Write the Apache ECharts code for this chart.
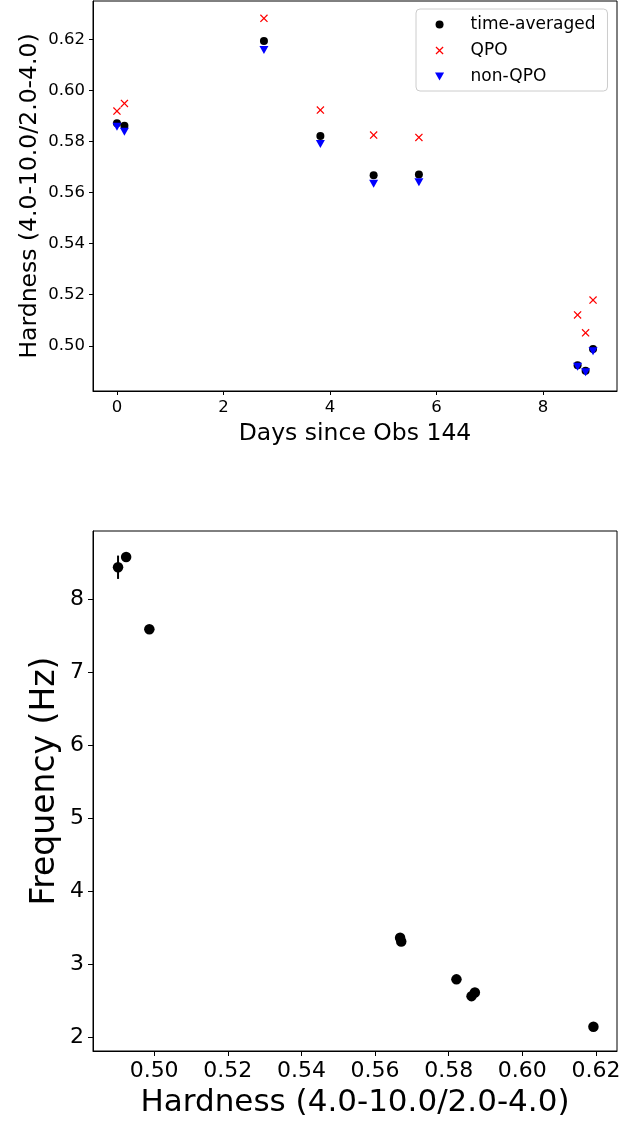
<!DOCTYPE html>
<html>
<head>
<meta charset="utf-8">
<script src="https://cdn.jsdelivr.net/npm/echarts@6/dist/echarts.min.js"></script>
<style>
  html, body { margin: 0; padding: 0; background: #fff; }
  #chart { width: 633px; height: 1122px; }
</style>
</head>
<body>
<div id="chart"></div>
<script>
// Observation epochs (days since Obs 144)
const days = [0.00, 0.14, 2.76, 3.82, 4.82, 5.67, 8.65, 8.80, 8.94];
// Hardness ratio (4.0-10.0 keV / 2.0-4.0 keV)
const hardAvg = [0.5871, 0.5862, 0.6193, 0.5821, 0.5668, 0.5671, 0.4924, 0.4902, 0.4987];
const hardQpo = [0.5919, 0.5949, 0.6282, 0.5923, 0.5825, 0.5816, 0.5121, 0.5051, 0.5179];
const hardNon = [0.5858, 0.5838, 0.6158, 0.5790, 0.5634, 0.5640, 0.4918, 0.4896, 0.4979];
// QPO centroid frequency and its 1-sigma uncertainty
const freq    = [2.61, 2.56, 2.14, 2.79, 3.36, 3.31, 8.58, 8.44, 7.59];
const freqErr = [0.03, 0.03, 0.02, 0.03, 0.04, 0.04, 0.05, 0.16, 0.04];

// Tick values
const dayTicks = [0, 2, 4, 6, 8];
const hardTicks = [0.50, 0.52, 0.54, 0.56, 0.58, 0.60, 0.62];
const freqTicks = [2, 3, 4, 5, 6, 7, 8];

const FONT = 'DejaVu Sans';
const X_MARK = 'path://M0,11L11,0L50,39L89,0L100,11L61,50L100,89L89,100L50,61L11,100L0,89L39,50Z';
const TRI_DOWN = 'path://M0,0L100,0L50,88Z';

const chart = echarts.init(document.getElementById('chart'), null, { renderer: 'canvas' });

function axisCommon(fontSize, tickLen, margin) {
  return {
    axisLine: { show: true, onZero: false, lineStyle: { color: '#000', width: 1 } },
    axisTick: { show: true, inside: false, length: tickLen, lineStyle: { color: '#000', width: 1 } },
    axisLabel: { color: '#000', fontFamily: FONT, fontSize: fontSize, margin: margin },
    splitLine: { show: false },
    nameMoveOverlap: false,
    nameTextStyle: { color: '#000', fontFamily: FONT }
  };
}

function merge(a, b) {
  const out = Object.assign({}, a);
  for (const k in b) {
    if (b[k] && typeof b[k] === 'object' && !Array.isArray(b[k]) && a[k]) {
      out[k] = Object.assign({}, a[k], b[k]);
    } else {
      out[k] = b[k];
    }
  }
  return out;
}

const upperAxis = axisCommon(16.5, 4, 8);
const lowerAxis = axisCommon(22, 5, 9);

const option = {
  animation: false,
  backgroundColor: '#fff',
  textStyle: { fontFamily: FONT },
  grid: [
    { left: 93, top: 1, width: 524, height: 390, show: true, borderColor: '#000', borderWidth: 1, backgroundColor: 'transparent' },
    { left: 93, top: 531, width: 524, height: 520, show: true, borderColor: '#000', borderWidth: 1, backgroundColor: 'transparent' }
  ],
  legend: {
    show: true,
    orient: 'vertical',
    left: 416,
    top: 9,
    data: ['time-averaged', 'QPO', 'non-QPO'],
    itemWidth: 52,
    itemHeight: 8,
    itemGap: 9,
    padding: [7, 12, 6, 19],
    borderColor: '#cccccc',
    borderWidth: 1,
    borderRadius: 4,
    backgroundColor: 'rgba(255,255,255,0.8)',
    textStyle: { color: '#000', fontFamily: FONT, fontSize: 17 },
    selectedMode: false
  },
  xAxis: [
    merge(upperAxis, {
      type: 'value', gridIndex: 0, min: -0.45, max: 9.39,
      name: 'Days since Obs 144', nameLocation: 'middle', nameGap: 31,
      nameTextStyle: { fontSize: 23.5 },
      axisTick: { customValues: dayTicks },
      axisLabel: { customValues: dayTicks, formatter: v => String(v) }
    }),
    merge(lowerAxis, {
      type: 'value', gridIndex: 1, min: 0.4834, max: 0.6257,
      name: 'Hardness (4.0-10.0/2.0-4.0)', nameLocation: 'middle', nameGap: 36,
      nameTextStyle: { fontSize: 31 },
      axisTick: { customValues: hardTicks },
      axisLabel: { customValues: hardTicks, formatter: v => v.toFixed(2) }
    })
  ],
  yAxis: [
    merge(upperAxis, {
      type: 'value', gridIndex: 0, min: 0.4823, max: 0.635,
      name: 'Hardness (4.0-10.0/2.0-4.0)', nameLocation: 'middle', nameGap: 51,
      nameTextStyle: { fontSize: 23.5 },
      axisTick: { customValues: hardTicks },
      axisLabel: { customValues: hardTicks, formatter: v => v.toFixed(2) }
    }),
    merge(lowerAxis, {
      type: 'value', gridIndex: 1, min: 1.808, max: 8.937,
      name: 'Frequency (Hz)', nameLocation: 'middle', nameGap: 31,
      nameTextStyle: { fontSize: 33, padding: [0, 0, 0, 20] },
      axisTick: { customValues: freqTicks },
      axisLabel: { customValues: freqTicks, formatter: v => String(v) }
    })
  ],
  series: [
    {
      name: 'time-averaged', type: 'scatter', xAxisIndex: 0, yAxisIndex: 0,
      symbol: 'circle', symbolSize: 8,
      itemStyle: { color: '#000', opacity: 1 },
      data: days.map((d, i) => [d, hardAvg[i]]), z: 2
    },
    {
      name: 'QPO', type: 'scatter', xAxisIndex: 0, yAxisIndex: 0,
      symbol: X_MARK, symbolSize: 8,
      itemStyle: { color: '#ff0000', opacity: 1 },
      data: days.map((d, i) => [d, hardQpo[i]]), z: 3
    },
    {
      name: 'non-QPO', type: 'scatter', xAxisIndex: 0, yAxisIndex: 0,
      symbol: TRI_DOWN, symbolSize: [9, 8],
      itemStyle: { color: '#0000ff', opacity: 1 },
      data: days.map((d, i) => [d, hardNon[i]]), z: 4
    },
    {
      // vertical error bars on frequency
      type: 'custom', xAxisIndex: 1, yAxisIndex: 1, z: 2, silent: true,
      data: hardAvg.map((h, i) => [h, freq[i] - freqErr[i], freq[i] + freqErr[i]]),
      renderItem: function (params, api) {
        const lo = api.coord([api.value(0), api.value(1)]);
        const hi = api.coord([api.value(0), api.value(2)]);
        return {
          type: 'line',
          shape: { x1: lo[0], y1: lo[1], x2: hi[0], y2: hi[1] },
          style: { stroke: '#000', lineWidth: 2 }
        };
      }
    },
    {
      type: 'scatter', xAxisIndex: 1, yAxisIndex: 1,
      symbol: 'circle', symbolSize: 10.5,
      itemStyle: { color: '#000', opacity: 1 },
      data: hardAvg.map((h, i) => [h, freq[i]]), z: 3
    }
  ]
};

chart.setOption(option);
</script>
</body>
</html>
